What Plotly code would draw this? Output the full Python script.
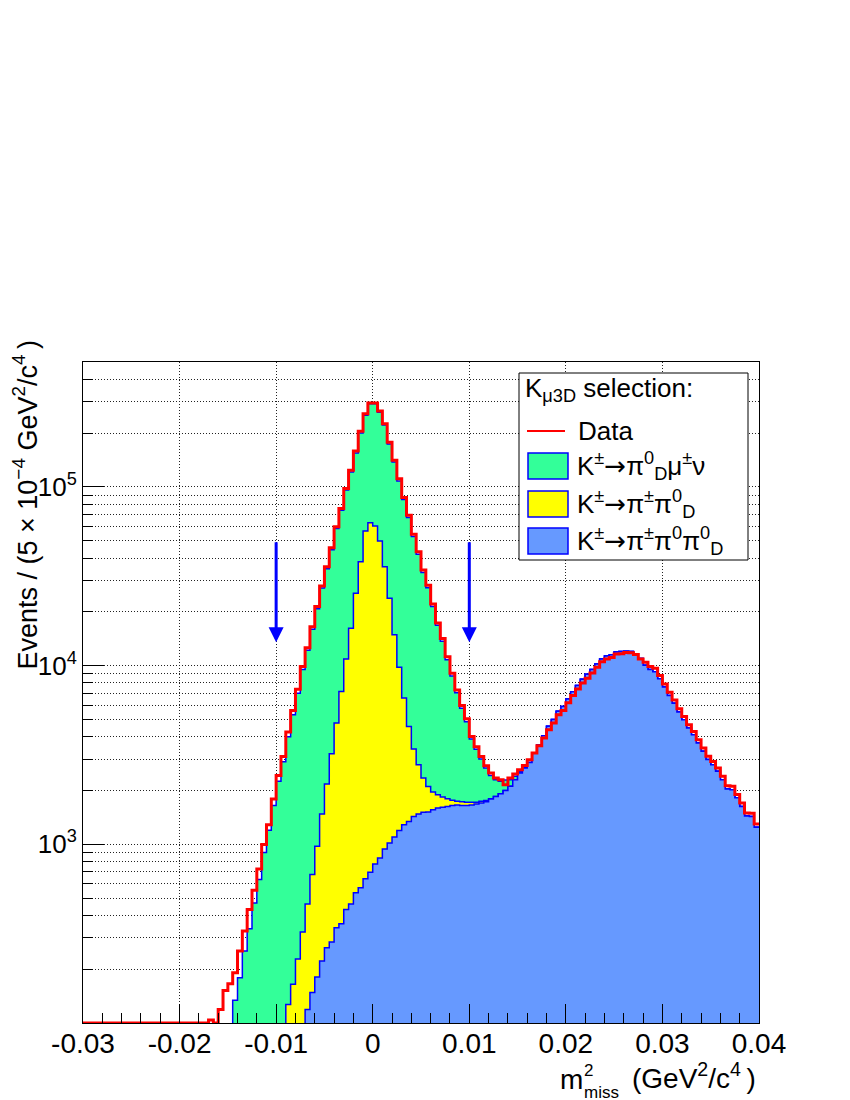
import numpy as np
import plotly.graph_objects as go

# 140 bins of 5e-4 GeV^2/c^4 between -0.03 and 0.04
x_lo, x_hi, bin_w = -0.03, 0.04, 0.0005
edges = x_lo + bin_w * np.arange(141)

# data (red), counts per bin
data = [0, 0, 0, 0, 0, 0, 0, 0, 0, 0, 0, 0, 0, 0, 0, 0, 0, 0, 0, 0,
        0, 0, 0, 0, 0, 0, 104, 0,
        119, 152, 166, 191, 253, 327, 431, 553, 728, 996,
        1288, 1793, 2429, 3101, 4246, 5605, 7380, 9900, 12600, 16500,
        21400, 27900, 35700, 45600, 59800, 75700, 98000, 124000, 159000, 205000,
        257000, 295000, 295000, 266000, 226000, 178000, 141000, 111000, 87300, 69500,
        54400, 43400, 34300, 28200, 22100, 17300, 14200, 11200, 9060, 7310,
        5980, 5040, 4010, 3520, 3100, 2754, 2506, 2350, 2298, 2157,
        2350, 2473, 2613, 2760, 2970, 3240, 3560, 3930, 4370, 4770,
        5300, 5600, 6200, 6800, 7400, 8000, 8500, 9100, 9800, 10500,
        10900, 11100, 11600, 11650, 11850, 11800, 11550, 10900, 10450, 9900,
        9650, 8800, 7900, 7100, 6430, 5730, 5190, 4670, 4280, 3845,
        3460, 3105, 2910, 2673, 2400, 2128, 2110, 1898, 1702, 1497, 1490, 1300]

# K -> pi pi0 pi0_D (blue, bottom of stack)
k3pi = [0, 0, 0, 0, 0, 0, 0, 0, 0, 0, 0, 0, 0, 0, 0, 0, 0, 0, 0, 0,
        0, 0, 0, 0, 0, 0, 0, 0, 0, 0, 0, 0, 0, 0, 0, 0, 0, 0, 0, 0,
        0, 0, 0, 0, 0, 0,
        119, 148, 181, 222, 264, 284, 341, 359, 431, 464,
        535, 571, 641, 698, 777, 839, 942, 1018, 1099, 1193,
        1288, 1343, 1432, 1479, 1510, 1515, 1563, 1596, 1610, 1630,
        1650, 1660, 1650, 1650, 1660, 1680, 1700, 1730, 1790, 1854,
        1919, 2003, 2110, 2298, 2506, 2673, 2873, 3250, 3600, 4050,
        4580, 5000, 5560, 5900, 6500, 7150, 7750, 8400, 8950, 9500,
        10200, 10900, 11300, 11500, 11900, 12000, 12050, 12000, 11650, 10950,
        10050, 9500, 9250, 8450, 7600, 6800, 6150, 5500, 4980, 4480,
        4100, 3690, 3320, 2980, 2790, 2560, 2300, 2040, 2020, 1820,
        1630, 1440, 1430, 1245]

# K -> pi pi0_D (yellow)
kpi2 = [0, 0, 0, 0, 0, 0, 0, 0, 0, 0, 0, 0, 0, 0, 0, 0, 0, 0, 0, 0,
        0, 0, 0, 0, 0, 0, 0, 0, 0, 0, 0, 0, 0, 0, 0, 0, 0, 0, 0, 0,
        0, 0,
        127, 165, 228, 323, 344, 529, 794, 1257, 1911, 2929,
        4427, 6801, 10470, 15740, 24870, 37530, 56060, 62300, 59720, 48960,
        34760, 22780, 13800, 8607, 5289, 3222, 1980, 1308, 839, 594,
        399, 299, 231, 170, 113, 80, 80, 70, 60, 40,
        40, 30, 10,
        0, 0, 0, 0, 0, 0, 0, 0, 0, 0, 0, 0, 0, 0, 0, 0, 0, 0, 0, 0,
        0, 0, 0, 0, 0, 0, 0, 0, 0, 0, 0, 0, 0, 0, 0, 0, 0, 0, 0, 0,
        0, 0, 0, 0, 0, 0, 0, 0, 0, 0, 0, 0, 0, 0, 0]

# K -> pi0_D mu nu (green, top of stack)
kmu3 = [0, 0, 0, 0, 0, 0, 0, 0, 0, 0, 0, 0, 0, 0, 0, 0, 0, 0, 0, 0,
        0, 0, 0, 0, 0, 0, 0, 0, 0, 0, 0,
        134, 179, 253, 337, 470, 635, 900, 1200, 1650, 2250, 2900,
        3873, 5135, 6772, 9177, 11740, 15320, 19830, 25720, 32630, 41290,
        53730, 66840, 85100, 104800, 129600, 161900, 195300, 229000, 231500, 212200,
        186300, 150200, 123100, 98200, 78420, 62940, 49390, 39210, 30850, 25190,
        19440, 14900, 11860, 9000, 6987, 5310, 4050, 3130, 2160, 1680,
        1260, 910, 630, 446, 331, 287, 190, 102, 54, 27,
        0, 0, 0, 0, 0, 0, 0, 0, 0, 0, 0, 0, 0, 0, 0, 0, 0, 0, 0, 0,
        0, 0, 0, 0, 0, 0, 0, 0, 0, 0, 0, 0, 0, 0, 0, 0, 0, 0, 0, 0,
        0, 0, 0, 0, 0, 0, 0, 0]

for arr in (data, k3pi, kpi2, kmu3):
    assert len(arr) == 140, len(arr)

# signal region cuts marked by arrows
cut_x = [-0.01, 0.01]
arrow_top, arrow_tip = 5.0e4, 1.35e4

y_lo, y_hi = 100, 5e5
FONT = "Liberation Sans, Arial, Helvetica, sans-serif"
GREEN, YELLOW, BLUE_FILL = '#33ff99', '#ffff00', '#6699ff'
LINE_BLUE, RED = '#0000ff', '#ff0000'
ARROW = '<span style="font-family:DejaVu Sans">→</span>'
THIN = '\u2009'


def steps(vals, floor):
    v = np.maximum(np.asarray(vals, dtype=float), floor)
    return edges, np.append(v, v[-1])


s1 = np.array(k3pi, dtype=float)
s2 = s1 + np.array(kpi2)
s3 = s2 + np.array(kmu3)

fig = go.Figure()
for top, col in [(s3, GREEN), (s2, YELLOW), (s1, BLUE_FILL)]:
    xs, ys = steps(top, 1e-3)
    fig.add_trace(go.Scatter(x=xs, y=ys, mode='lines', fill='tozeroy', fillcolor=col,
                             line=dict(shape='hv', color=LINE_BLUE, width=1.5),
                             hoverinfo='skip', showlegend=False))

xs, ys = steps(data, y_lo)
fig.add_trace(go.Scatter(x=xs, y=ys, mode='lines', line=dict(shape='hv', color=RED, width=3),
                         showlegend=False))

# arrows
for cx in cut_x:
    fig.add_annotation(x=cx, y=np.log10(arrow_tip), ax=cx, ay=np.log10(arrow_top),
                       xref='x', yref='y', axref='x', ayref='y', text='',
                       showarrow=True, arrowhead=2, arrowsize=1, arrowwidth=3,
                       arrowcolor=LINE_BLUE)

# page layout: the html body adds an 8 px offset, plot frame sits at x 83..759, y 362..1023
OFF = 8
W, H, L, B = 676, 661, 83, 1023


def px(x):
    return (x - L) / W


def py(y):
    return (B - y) / H


def note(x, y, text, size, xanchor='left', yanchor='middle', **kw):
    fig.add_annotation(xref='paper', yref='paper', x=px(x), y=py(y), xanchor=xanchor,
                       yanchor=yanchor, text=text, showarrow=False, font=dict(size=size), **kw)


# legend box drawn by hand (ROOT TLegend look)
fig.add_shape(type='rect', xref='paper', yref='paper', x0=px(519), x1=px(748),
              y0=py(560), y1=py(373), fillcolor='white', line=dict(color='black', width=1))
note(523, 389, 'K<sub>μ3D</sub> selection:', 26)
fig.add_shape(type='line', xref='paper', yref='paper', x0=px(527), x1=px(565), y0=py(431), y1=py(431),
              line=dict(color=RED, width=2))
note(576, 431, 'Data', 26)
entries = [(GREEN, 466, 'K<sup>±</sup>' + ARROW + 'π<sup>0</sup><sub>D</sub>μ<sup>±</sup>ν'),
           (YELLOW, 504, 'K<sup>±</sup>' + ARROW + 'π<sup>±</sup>π<sup>0</sup><sub>D</sub>'),
           (BLUE_FILL, 541, 'K<sup>±</sup>' + ARROW + 'π<sup>±</sup>π<sup>0</sup>π<sup>0</sup><sub>D</sub>')]
for col, yc, label in entries:
    fig.add_shape(type='rect', xref='paper', yref='paper', x0=px(528), x1=px(568),
                  y0=py(yc + 13), y1=py(yc - 13), fillcolor=col, line=dict(color=LINE_BLUE, width=1.5))
    note(575, yc, label, 26)

# x title, aligned to the axis end like ROOT, with stacked 2 / miss
note(558, 1079, 'm', 28)
note(582, 1081, '2<br>miss', 17, align='left')
note(758, 1076, '(GeV<sup>2</sup>/c<sup>4</sup>' + THIN + ')', 28, xanchor='right')

# y title
note(25, 339, 'Events / (5 × 10<sup>−4</sup> GeV<sup>2</sup>/c<sup>4</sup>' + THIN + ')', 27,
     xanchor='center', yanchor='top', textangle=-90)

x_ticks = np.round(np.arange(-0.03, 0.0401, 0.01), 2)
y_ticks = [1e3, 1e4, 1e5]
y_minor = [m * 10 ** e for e in range(2, 6) for m in range(2, 10) if m * 10 ** e < y_hi]

fig.update_layout(
    width=850, height=1100,
    margin=dict(l=L - OFF, r=850 - (L - OFF) - W, t=B - H - OFF, b=1100 - (B - OFF)),
    paper_bgcolor='white', plot_bgcolor='white',
    font=dict(family=FONT, color='black', size=26),
    showlegend=False,
    xaxis=dict(range=[x_lo, x_hi], tickmode='array', tickvals=x_ticks,
               ticktext=['0' if t == 0 else f'{t:g}' for t in x_ticks],
               ticks='inside', ticklen=19, tickcolor='black', tickfont=dict(size=28),
               ticklabelstandoff=-5,
               showgrid=True, gridcolor='#222', griddash='1px,2px', gridwidth=1,
               minor=dict(tickmode='linear', tick0=0, dtick=0.002, ticks='inside', ticklen=10,
                          tickcolor='black', showgrid=False),
               showline=True, mirror=True, linecolor='black', linewidth=1, zeroline=False),
    yaxis=dict(type='log', range=[np.log10(y_lo), np.log10(y_hi)], tickmode='array',
               tickvals=y_ticks, ticktext=['10<sup>3</sup>', '10<sup>4</sup>', '10<sup>5</sup>'],
               ticks='inside', ticklen=21, tickcolor='black', tickfont=dict(size=26),
               showgrid=True, gridcolor='#222', griddash='1px,2px', gridwidth=1,
               minor=dict(tickmode='array', tickvals=y_minor, ticks='inside', ticklen=10,
                          tickcolor='black', showgrid=True, gridcolor='#222', griddash='1px,2px'),
               showline=True, mirror=True, linecolor='black', linewidth=1, zeroline=False),
)

fig.write_html("out.html")
